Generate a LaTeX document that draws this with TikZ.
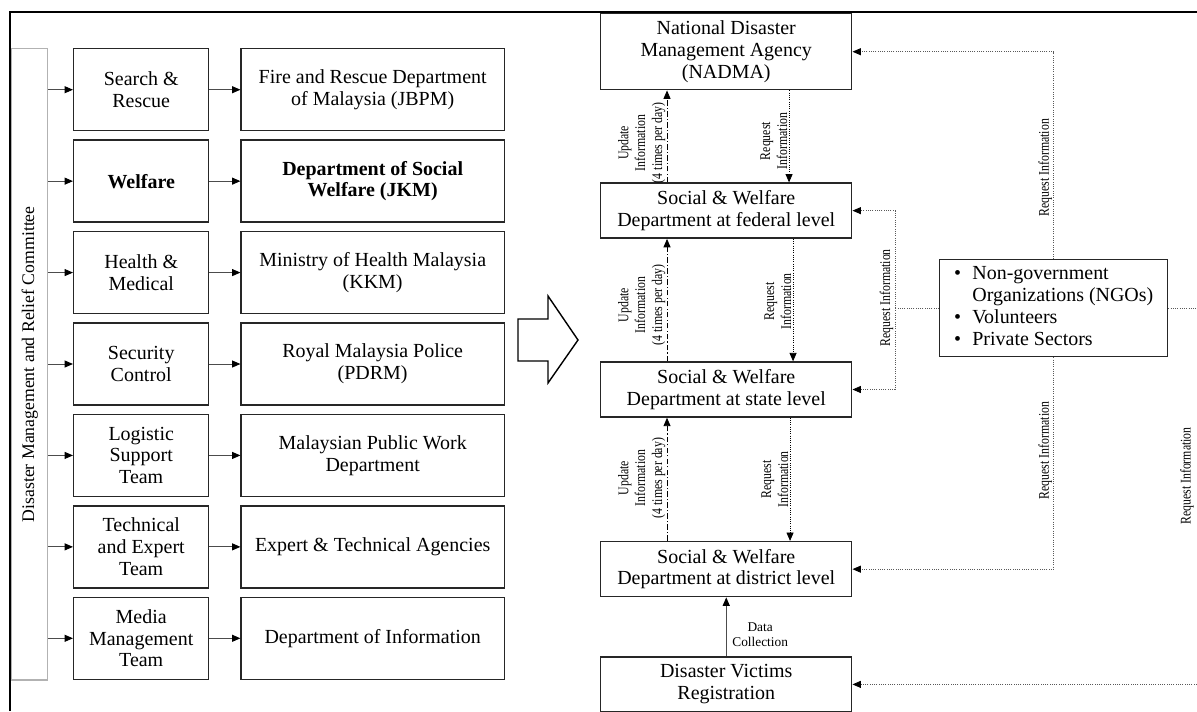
\documentclass[tikz,border=0pt]{standalone}
\usepackage{fontspec}
\setmainfont{Liberation Serif}
\newfontfamily\narrowserif[FakeStretch=0.8]{Liberation Serif}
\usetikzlibrary{arrows.meta, positioning}
\newcommand{\boxfont}{\fontsize{14.2}{15.5}\selectfont}
\newcommand{\notefont}{\narrowserif\fontsize{10.5}{12}\selectfont}
\tikzset{
    box/.style={rectangle, draw=black!85, line width=1pt, align=center, font=\boxfont, inner sep=2pt},
    teambox/.style={box, minimum width=3.375cm, minimum height=2.05cm},
    agencybox/.style={box, minimum width=6.575cm, minimum height=2.05cm},
    levelbox/.style={box, minimum width=6.275cm, minimum height=1.375cm},
    committeebar/.style={rectangle, draw=gray!60, line width=1pt, minimum width=0.9cm, minimum height=15.775cm},
    arrow/.style={-{Triangle[length=6pt, width=5pt, color=black]}, draw=gray!60!black, line width=0.7pt},
    updatearrow/.style={-{Triangle[length=6pt, width=5pt]}, line width=0.6pt, dash pattern=on 4pt off 1.5pt on 0.8pt off 1.5pt},
    requestarrow/.style={-{Triangle[length=6pt, width=5pt]}, line width=0.6pt, densely dotted},
    reqline/.style={draw=gray!70!black, line width=0.6pt, densely dotted},
    reqarrow/.style={reqline, -{Triangle[length=6pt, width=5pt, color=black]}},
    note/.style={font=\notefont, align=center, inner sep=1pt}
}

\begin{document}
\begin{tikzpicture}[x=0.025cm, y=-0.025cm]
    \useasboundingbox (0,0) rectangle (1197,711);
    \clip (0,0) rectangle (1197,711);

    % Frame
    \draw[line width=1pt] (10,711) -- (10,12) -- (1197,12);

    % Committee bar
    \node[committeebar, anchor=north west] (committee) at (11,48) {};
    \node[rotate=90, font=\fontsize{12.6}{14}\selectfont] (committee_text) at (committee.center) {Disaster Management and Relief Committee};

    % Teams
    \node[teambox, anchor=north west] (search) at (73,48) {Search \&\\Rescue};
    \node[teambox, below=0.2cm of search] (welfare) {\textbf{Welfare}};
    \node[teambox, below=0.2cm of welfare] (health) {Health \&\\Medical};
    \node[teambox, below=0.2cm of health] (security) {Security\\Control};
    \node[teambox, below=0.2cm of security] (logistic) {Logistic\\Support\\Team};
    \node[teambox, below=0.2cm of logistic] (technical) {Technical\\and Expert\\Team};
    \node[teambox, below=0.2cm of technical] (media) {Media\\Management\\Team};

    % Agencies
    \node[agencybox, right=0.775cm of search] (jbpm) {Fire and Rescue Department\\of Malaysia (JBPM)};
    \node[agencybox, right=0.775cm of welfare] (jkm) {\textbf{Department of Social}\\\textbf{Welfare (JKM)}};
    \node[agencybox, right=0.775cm of health] (kkm) {Ministry of Health Malaysia\\(KKM)};
    \node[agencybox, right=0.775cm of security] (pdrm) {Royal Malaysia Police\\(PDRM)};
    \node[agencybox, right=0.775cm of logistic] (jkr) {Malaysian Public Work\\Department};
    \node[agencybox, right=0.775cm of technical] (agencies) {Expert \& Technical Agencies};
    \node[agencybox, right=0.775cm of media] (info) {Department of Information};

    % Committee to teams to agencies
    \draw[arrow] (committee.east |- search) -- (search);
    \draw[arrow] (committee.east |- welfare) -- (welfare);
    \draw[arrow] (committee.east |- health) -- (health);
    \draw[arrow] (committee.east |- security) -- (security);
    \draw[arrow] (committee.east |- logistic) -- (logistic);
    \draw[arrow] (committee.east |- technical) -- (technical);
    \draw[arrow] (committee.east |- media) -- (media);
    \draw[arrow] (search) -- (jbpm);
    \draw[arrow] (welfare) -- (jkm);
    \draw[arrow] (health) -- (kkm);
    \draw[arrow] (security) -- (pdrm);
    \draw[arrow] (logistic) -- (jkr);
    \draw[arrow] (technical) -- (agencies);
    \draw[arrow] (media) -- (info);

    % Big hollow arrow
    \draw[line width=1pt, line join=miter] (518,319) -- (548,319) -- (548,296) -- (578,340) -- (548,383) -- (548,361) -- (518,361) -- cycle;

    % Reporting levels
    \node[levelbox, minimum height=1.9cm, anchor=north west] (nadma) at (600,13) {National Disaster\\Management Agency\\(NADMA)};
    \node[levelbox, below=2.3cm of nadma] (federal) {Social \& Welfare\\Department at federal level};
    \node[levelbox, below=3.06cm of federal] (state) {Social \& Welfare\\Department at state level};
    \node[levelbox, below=3.08cm of state] (district) {Social \& Welfare\\Department at district level};
    \node[levelbox, below=1.47cm of district] (victims) {Disaster Victims\\Registration};

    % NGOs
    \node[box, anchor=north west, minimum width=5.7cm, minimum height=2.425cm] (ngo) at (939,259) {\begin{tabular}{@{}l@{\hspace{8pt}}l@{}}
        \textbullet & Non-government\\
                    & Organizations (NGOs)\\
        \textbullet & Volunteers\\
        \textbullet & Private Sectors
    \end{tabular}};

    % Update and request lines
    \draw[updatearrow] ([xshift=1.675cm]federal.north west) -- node[note, pos=0.43, rotate=90, anchor=south] (upd_nadma) {Update\\Information\\(4 times per day)} ([xshift=1.675cm]nadma.south west);
    \draw[updatearrow] ([xshift=1.675cm]state.north west) -- node[note, pos=0.46, rotate=90, anchor=south] (upd_federal) {Update\\Information\\(4 times per day)} ([xshift=1.675cm]federal.south west);
    \draw[updatearrow] ([xshift=1.675cm]district.north west) -- node[note, pos=0.51, rotate=90, anchor=south] (upd_state) {Update\\Information\\(4 times per day)} ([xshift=1.675cm]state.south west);
    \draw[requestarrow] ([xshift=4.725cm]nadma.south west) -- node[note, pos=0.55, rotate=90, anchor=south] (req_federal) {Request\\Information} ([xshift=4.725cm]federal.north west);
    \draw[requestarrow] ([xshift=4.825cm]federal.south west) -- node[note, pos=0.51, rotate=90, anchor=south] (req_state) {Request\\Information} ([xshift=4.825cm]state.north west);
    \draw[requestarrow] ([xshift=4.75cm]state.south west) -- node[note, pos=0.5, rotate=90, anchor=south] (req_district) {Request\\Information} ([xshift=4.75cm]district.north west);
    \draw[arrow] (victims.north) -- node[pos=0.37, right=3pt, font=\fontsize{9.5}{10.5}\selectfont, align=center, inner sep=1pt] (data_label) {Data\\Collection} (district.south);

    % NGO request lines
    \draw[reqarrow] (ngo.north) |- node[note, pos=0.22, rotate=90, anchor=south] (ngo_nadma) {Request Information} (nadma.east);
    \coordinate (fork) at ([xshift=-1.1cm]ngo.west);
    \draw[reqline] (ngo.west) -- (fork);
    \draw[reqarrow] (fork) |- (federal.east);
    \draw[reqarrow] (fork) |- (state.east);
    \node[note, rotate=90, anchor=south] (fork_label) at ([yshift=0.26cm]fork) {Request Information};
    \draw[reqarrow] (ngo.south) |- node[note, pos=0.22, rotate=90, anchor=south] (ngo_district) {Request Information} (district.east);
    \coordinate (rightedge) at (1206,0);
    \draw[reqarrow] (ngo.east) -| (rightedge |- victims.east) -- (victims.east);
    \node[note, rotate=90] (edge_label) at (1187,476) {Request Information};
\end{tikzpicture}
\end{document}
